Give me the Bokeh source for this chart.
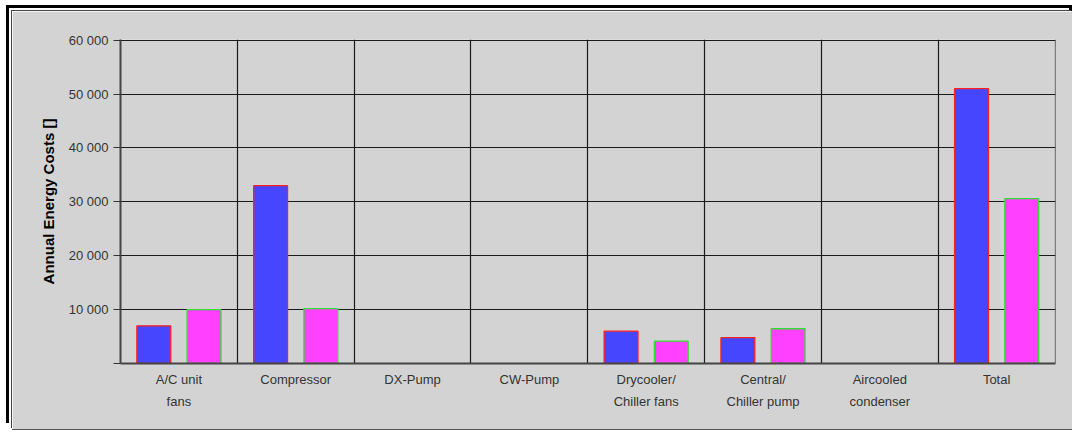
from bokeh.plotting import figure
from bokeh.models import (ColumnDataSource, Range1d, FixedTicker, CDSView,
                          BooleanFilter, GlobalInlineStyleSheet)
from bokeh.transform import dodge
from bokeh.embed import file_html
from bokeh.resources import INLINE

# Annual energy cost per component, two system variants
categories = ["A/C unit\nfans", "Compressor", "DX-Pump", "CW-Pump",
              "Drycooler/\nChiller fans", "Central/\nChiller pump",
              "Aircooled\ncondenser", "Total"]
variant_a = [7000, 33000, 0, 0, 6000, 4800, 0, 51000]
variant_b = [10000, 10200, 0, 0, 4150, 6450, 0, 30600]
y_ticks = [0, 10000, 20000, 30000, 40000, 50000, 60000]

positions = [i + 0.5 for i in range(len(categories))]
source = ColumnDataSource(dict(x=positions, a=variant_a, b=variant_b))
# components without cost get no bar at all
view_a = CDSView(filter=BooleanFilter([v > 0 for v in variant_a]))
view_b = CDSView(filter=BooleanFilter([v > 0 for v in variant_b]))

# canvas starts at x=12, y=11 of the page
OX, OY = 12, 11
W, H = 1072 - OX, 429 - OY
p = figure(width=W, height=H, output_backend="svg", toolbar_location=None,
           x_range=Range1d(0, len(categories) + 0.004),
           y_range=Range1d(0, 60120),
           min_border_left=120 - OX, min_border_right=1072 - 1055,
           min_border_top=39 - OY, min_border_bottom=429 - 363)

bg = "#d3d3d3"
p.background_fill_color = bg
p.border_fill_color = bg
p.outline_line_color = None

# bars
p.vbar(x=dodge("x", -0.215), top="a", width=0.29, source=source, view=view_a,
       fill_color="#4646ff", line_color="#ff2020", line_width=1.3)
p.vbar(x=dodge("x", 0.215), top="b", width=0.29, source=source, view=view_b,
       fill_color="#ff40ff", line_color="#30e030", line_width=1.3)

# grid: horizontal at y ticks, vertical at category boundaries
p.ygrid.ticker = FixedTicker(ticks=y_ticks[1:])
p.ygrid.grid_line_color = "#1a1a1a"
p.ygrid.grid_line_width = 1.2
p.xgrid.ticker = FixedTicker(ticks=list(range(1, len(categories) + 1)))
p.xgrid.grid_line_color = "#1a1a1a"
p.xgrid.grid_line_width = 1.2

# y axis
yax = p.yaxis[0]
yax.ticker = FixedTicker(ticks=y_ticks)
yax.major_label_overrides = {v: ("" if v == 0 else f"{v:,}".replace(",", " ")) for v in y_ticks}
yax.minor_tick_line_color = None
yax.major_tick_out = 7
yax.major_tick_in = 0
yax.major_tick_line_color = "#333333"
yax.axis_line_color = "#444444"
yax.axis_line_width = 2
yax.major_label_text_font = "Liberation Sans"
yax.major_label_text_font_size = "13px"
yax.major_label_text_color = "#333333"
yax.major_label_standoff = 5
yax.axis_label = "Annual Energy Costs []"
yax.axis_label_text_font = "Liberation Sans"
yax.axis_label_text_font_size = "15px"
yax.axis_label_text_font_style = "bold"
yax.axis_label_text_color = "#000000"
yax.axis_label_standoff = 9

# x axis with two-line category labels
xax = p.xaxis[0]
xax.ticker = FixedTicker(ticks=positions)
xax.major_label_overrides = {v: c for v, c in zip(positions, categories)}
xax.minor_tick_line_color = None
xax.major_tick_line_color = None
xax.axis_line_color = "#444444"
xax.axis_line_width = 2
xax.major_label_text_font = "Liberation Sans"
xax.major_label_text_font_size = "13px"
xax.major_label_text_color = "#333333"
xax.major_label_text_line_height = 1.5
xax.major_label_standoff = 2

# double frame drawn as shadows: thin grey line, white gap, thick black line
p.styles = {
    "position": "absolute",
    "left": f"{OX}px",
    "top": f"{OY}px",
    "box-shadow": ("-1px -1px 0 0 #444444, -3px -3px 0 0 #ffffff, "
                   "-6px -6px 0 0 #000000, 0 1px 0 0 #555555, "
                   "6px -6px 0 0 #000000, 3px -3px 0 0 #ffffff"),
}
p.stylesheets = [GlobalInlineStyleSheet(css="html, body { margin: 0; overflow: hidden; }")]

open("out.html", "w").write(file_html(p, INLINE))
